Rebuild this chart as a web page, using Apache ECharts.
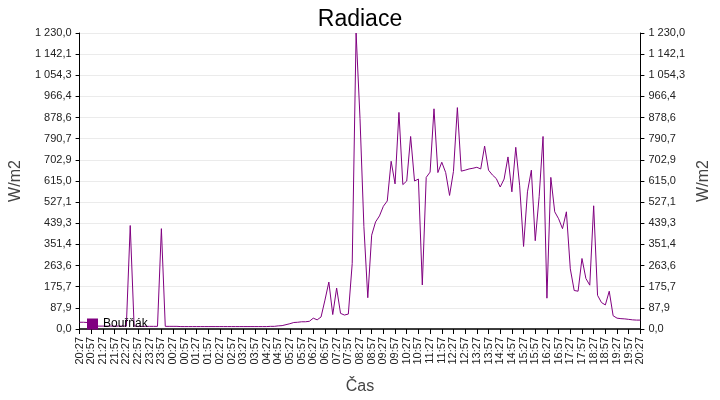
<!DOCTYPE html>
<html><head><meta charset="utf-8">
<script src="https://cdn.jsdelivr.net/npm/echarts@6/dist/echarts.min.js"></script>
<style>html,body{margin:0;padding:0;background:#fff}#c{width:720px;height:400px}</style>
</head><body><div id="c"></div>
<script>
var startMin = 20*60+27;
var categories = [];
for (var i = 0; i < 145; i++) { var m = (startMin + i*10) % 1440; categories.push(String(Math.floor(m/60)).padStart(2,'0') + ':' + String(m%60).padStart(2,'0')); }
var values = [
28,28,27,12,12,12,12,12,12,12,12,12,12,430,12,11,11,11,11,11,11,417,
11,11,11,11,10,10,10,10,10,10,10,10,10,10,10,10,10,10,10,10,10,10,10,10,10,10,10,11,11,
13,14,18,22,27,28,30,30,32,45,38,50,120,195,60,170,65,58,62,272,1230,875,425,130,390,445,470,510,532,697,603,900,600,615,800,615,623,183,630,652,915,650,693,650,555,655,920,656,660,665,668,672,665,760,660,640,625,590,623,715,570,755,595,343,570,660,367,550,800,128,630,487,458,417,487,250,160,157,293,210,182,512,140,110,100,157,55,45,43,42,40,38,37,37
];
var seriesName = 'Bouřňák';
function fmt(v){var s=v.toFixed(1).split('.');return s[0].replace(/\B(?=(\d{3})+(?!\d))/g,' ')+','+s[1];}
var F = 'Liberation Sans, Arial, sans-serif';
var yAxisBase = {type:'value',min:0,max:1230,interval:1230/14,name:'W/m2',nameLocation:'middle',nameGap:55,nameTextStyle:{fontSize:16,color:'#444',fontFamily:F},
  axisLine:{show:true,lineStyle:{color:'#000'}},axisTick:{show:true,length:4,lineStyle:{color:'#000'}},
  axisLabel:{formatter:fmt,fontSize:11,color:'#222',fontFamily:F},splitLine:{lineStyle:{color:'#ebebeb'}}};
var chart = echarts.init(document.getElementById('c'));
chart.setOption({
  animation:false,
  title:{text:'Radiace',left:'center',top:3,textStyle:{fontSize:23,fontWeight:'normal',color:'#000',fontFamily:F}},
  grid:{left:75,right:76,top:33,bottom:69},
  legend:{data:[{name:seriesName,icon:'rect'}],left:82,top:313,itemWidth:11,itemHeight:11,itemGap:6,textStyle:{fontSize:12,color:'#000',fontFamily:F}},
  xAxis:{type:'category',data:categories,boundaryGap:false,name:'Čas',nameLocation:'middle',nameGap:50,nameTextStyle:{fontSize:16,color:'#444',fontFamily:F},
    axisLine:{lineStyle:{color:'#000',width:1.5}},axisTick:{interval:2,length:5,lineStyle:{color:'#000'}},
    axisLabel:{interval:2,rotate:90,fontSize:11,color:'#222',fontFamily:F},splitLine:{show:false}},
  yAxis:[Object.assign({},yAxisBase,{position:'left'}),Object.assign({},yAxisBase,{position:'right',splitLine:{show:false}})],
  series:[{name:seriesName,type:'line',data:values,symbol:'none',lineStyle:{color:'#800080',width:1},itemStyle:{color:'#800080'}}]
});
</script></body></html>
